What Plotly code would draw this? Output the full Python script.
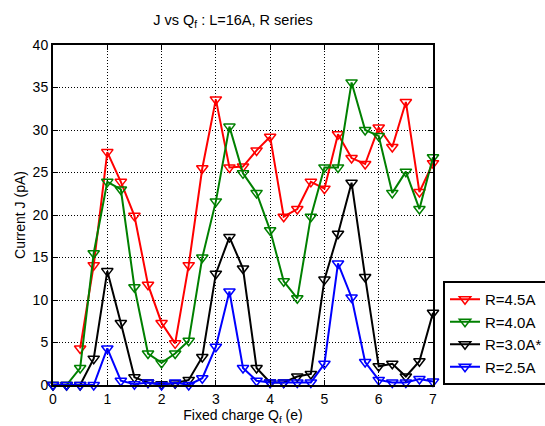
import plotly.graph_objects as go

x_vals = [i * 0.25 for i in range(29)]
red_45 = [None, None, 4.3, 14.1, 27.4, 23.9, 19.9, 11.8, 7.3, 4.9, 14.1, 25.5, 33.6, 25.6, 25.7,
          27.6, 29.2, 19.8, 20.7, 23.9, 23.1, 29.5, 26.7, 26.0, 30.3, 28.0, 33.3, 22.7, 26.1]
green_40 = [0, 0, 2.0, 15.5, 23.9, 23.0, 11.5, 3.7, 2.6, 3.7, 5.2, 15.0, 21.6, 30.4, 24.9,
            22.6, 18.2, 12.2, 10.2, 19.8, 25.6, 25.6, 35.6, 30.0, 29.3, 22.6, 25.1, 20.7, 26.8]
black_30 = [0, 0, 0, 3.1, 13.4, 7.3, 0.9, 0.3, 0.1, 0.2, 0.6, 3.3, 13.1, 17.4, 13.7,
            2.0, 0.3, 0.3, 1.0, 1.3, 12.4, 17.8, 23.8, 12.7, 2.2, 2.5, 1.0, 2.8, 8.5]
blue_25 = [0, 0, 0, 0, 4.3, 0.5, 0.1, 0.3, 0, 0.3, 0, 0.8, 4.5, 11.0, 2.0,
           0.5, 0.3, 0.3, 0.3, 0.3, 2.5, 14.3, 10.3, 2.7, 0.6, 0.3, 0.3, 0.7, 0.4]

series_names = ["R=4.5A", "R=4.0A", "R=3.0A*", "R=2.5A"]
series_vals = [red_45, green_40, black_30, blue_25]
colors = ["#ff0000", "#008000", "#000000", "#0000ff"]

fig = go.Figure()
for name, vals, c in zip(series_names, series_vals, colors):
    fig.add_trace(go.Scatter(
        x=x_vals, y=vals, name=name, mode="lines+markers",
        line=dict(color=c, width=2),
        marker=dict(symbol="triangle-down-open", size=10, color=c, line=dict(width=1.5, color=c)),
        cliponaxis=False,
    ))

axis_common = dict(
    showline=True, linecolor="black", linewidth=2, mirror="ticks",
    ticks="inside", ticklen=5, tickcolor="black", tickwidth=1,
    showgrid=True, gridcolor="black", griddash="1px,2px", gridwidth=1,
    zeroline=False, automargin=False,
    tickfont=dict(family="Liberation Sans, Arial", size=14, color="black"),
)

fig.update_layout(
    width=545, height=426,
    margin=dict(l=53, r=112, t=45, b=41),
    paper_bgcolor="white", plot_bgcolor="white",
    font=dict(family="Liberation Sans, Arial", size=14, color="black"),
    title=dict(text="J vs Q<sub>f</sub> : L=16A, R series", x=233/545, xanchor="center",
               y=1 - 20/426, yanchor="middle", font=dict(size=14.5)),
    xaxis=dict(range=[0, 7], dtick=1, title=dict(text="Fixed charge Q<sub>f</sub> (e)", standoff=0,
               font=dict(size=14)), **axis_common),
    yaxis=dict(range=[0, 40], dtick=5, title=dict(text="Current J (pA)", standoff=4,
               font=dict(size=14)), **axis_common),
    legend=dict(xref="container", yref="container", x=443/545, y=(426 - 385)/426,
                xanchor="left", yanchor="bottom",
                bordercolor="black", borderwidth=2, bgcolor="white",
                font=dict(size=15), tracegroupgap=0, itemwidth=30),
    showlegend=True,
)

fig.write_html("out.html")
